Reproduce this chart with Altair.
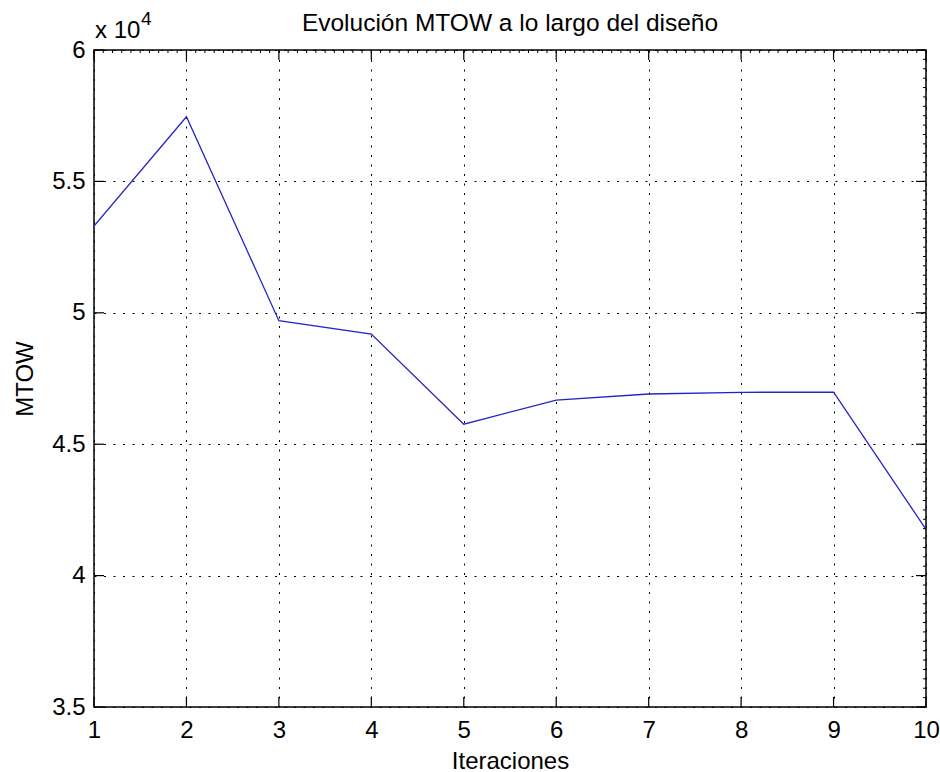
import altair as alt
import pandas as pd

# ---- data ----
iteraciones = [1, 2, 3, 4, 5, 6, 7, 8, 9, 10]
mtow = [53300, 57460, 49700, 49190, 45760, 46680, 46910, 46975, 46980, 41760]

x_ticks = [1, 2, 3, 4, 5, 6, 7, 8, 9, 10]
y_ticks = [35000, 40000, 45000, 50000, 55000, 60000]
x_minor = [1 + i * 0.1 for i in range(91)]
y_minor = [35000 + i * 5000 / 14 for i in range(71)]

title_text = "Evolución MTOW a lo largo del diseño"
x_title = "Iteraciones"
y_title = "MTOW"
exp_base = "x 10"
exp_power = "4"

W, H = 832, 657
FONT = "Liberation Sans"
LINE_COLOR = "#2424c4"

df = pd.DataFrame({"it": iteraciones, "mtow": mtow})
xscale = alt.Scale(domain=[1, 10], nice=False, zero=False)
yscale = alt.Scale(domain=[35000, 60000], nice=False, zero=False)

x_axis = alt.Axis(
    values=x_ticks, format="d", title=x_title,
    grid=True, gridDash=[2, 7.5], gridColor="black", gridOpacity=1, gridWidth=1,
    ticks=False, tickSize=0, domain=False,
    labelFont=FONT, labelFontSize=24, labelColor="black", labelPadding=11,
    labelFlush=False, labelOverlap=False, labelBound=False,
    titleFont=FONT, titleFontSize=24, titleFontWeight="normal", titleColor="black",
    titleX=W / 2, titleY=61, titleBaseline="alphabetic", titleAlign="center",
)
y_axis = alt.Axis(
    values=y_ticks, labelExpr="format(datum.value / 10000, '~g')", title=y_title,
    grid=True, gridDash=[2, 7.5], gridColor="black", gridOpacity=1, gridWidth=1,
    ticks=False, tickSize=0, domain=False,
    labelFont=FONT, labelFontSize=24, labelColor="black", labelPadding=9,
    labelFlush=False, labelOverlap=False, labelBound=False,
    titleFont=FONT, titleFontSize=24, titleFontWeight="normal", titleColor="black",
    titleAngle=270, titleX=-62, titleY=H / 2, titleBaseline="alphabetic", titleAlign="center",
)

line = alt.Chart(df).mark_line(color=LINE_COLOR, strokeWidth=1.3, clip=True).encode(
    x=alt.X("it:Q", scale=xscale, axis=x_axis),
    y=alt.Y("mtow:Q", scale=yscale, axis=y_axis),
)

xt = pd.DataFrame({"it": x_ticks})
yt = pd.DataFrame({"mtow": y_ticks})
xm = pd.DataFrame({"it": x_minor})
ym = pd.DataFrame({"mtow": y_minor})

def xrule(data, y0, y1, w=1.2):
    return alt.Chart(data).mark_rule(color="black", strokeWidth=w).encode(
        x=alt.X("it:Q", scale=xscale, axis=x_axis), y=alt.value(y0), y2=alt.value(y1))

def yrule(data, x0, x1, w=1.2):
    return alt.Chart(data).mark_rule(color="black", strokeWidth=w).encode(
        y=alt.Y("mtow:Q", scale=yscale, axis=y_axis), x=alt.value(x0), x2=alt.value(x1))

ticks = [
    xrule(xt, H, H - 10),
    xrule(xt, 0, 10),
    yrule(yt, 0, 10),
    yrule(yt, W, W - 10),
    xrule(xm, 0, 3, 1),
    yrule(ym, W, W - 3, 1),
]

def label(text, x, y, size, align="center"):
    return alt.Chart(pd.DataFrame({"t": [text]})).mark_text(
        font=FONT, fontSize=size, color="black", align=align, baseline="alphabetic"
    ).encode(text="t:N", x=alt.value(x), y=alt.value(y))

texts = [
    label(title_text, W / 2, -19, 24.5),
    label(exp_base, 1, -12, 24, "left"),
    label(exp_power, 47, -25, 19, "left"),
]

chart = alt.layer(line, *ticks, *texts).properties(
    width=W, height=H,
    autosize=alt.AutoSizeParams(type="none"),
    padding={"left": 94, "top": 50, "right": 14, "bottom": 65},
    background="white",
).configure_view(stroke="black", strokeWidth=1.5)

chart.save("out.html", embed_options={"renderer": "svg", "actions": False})
